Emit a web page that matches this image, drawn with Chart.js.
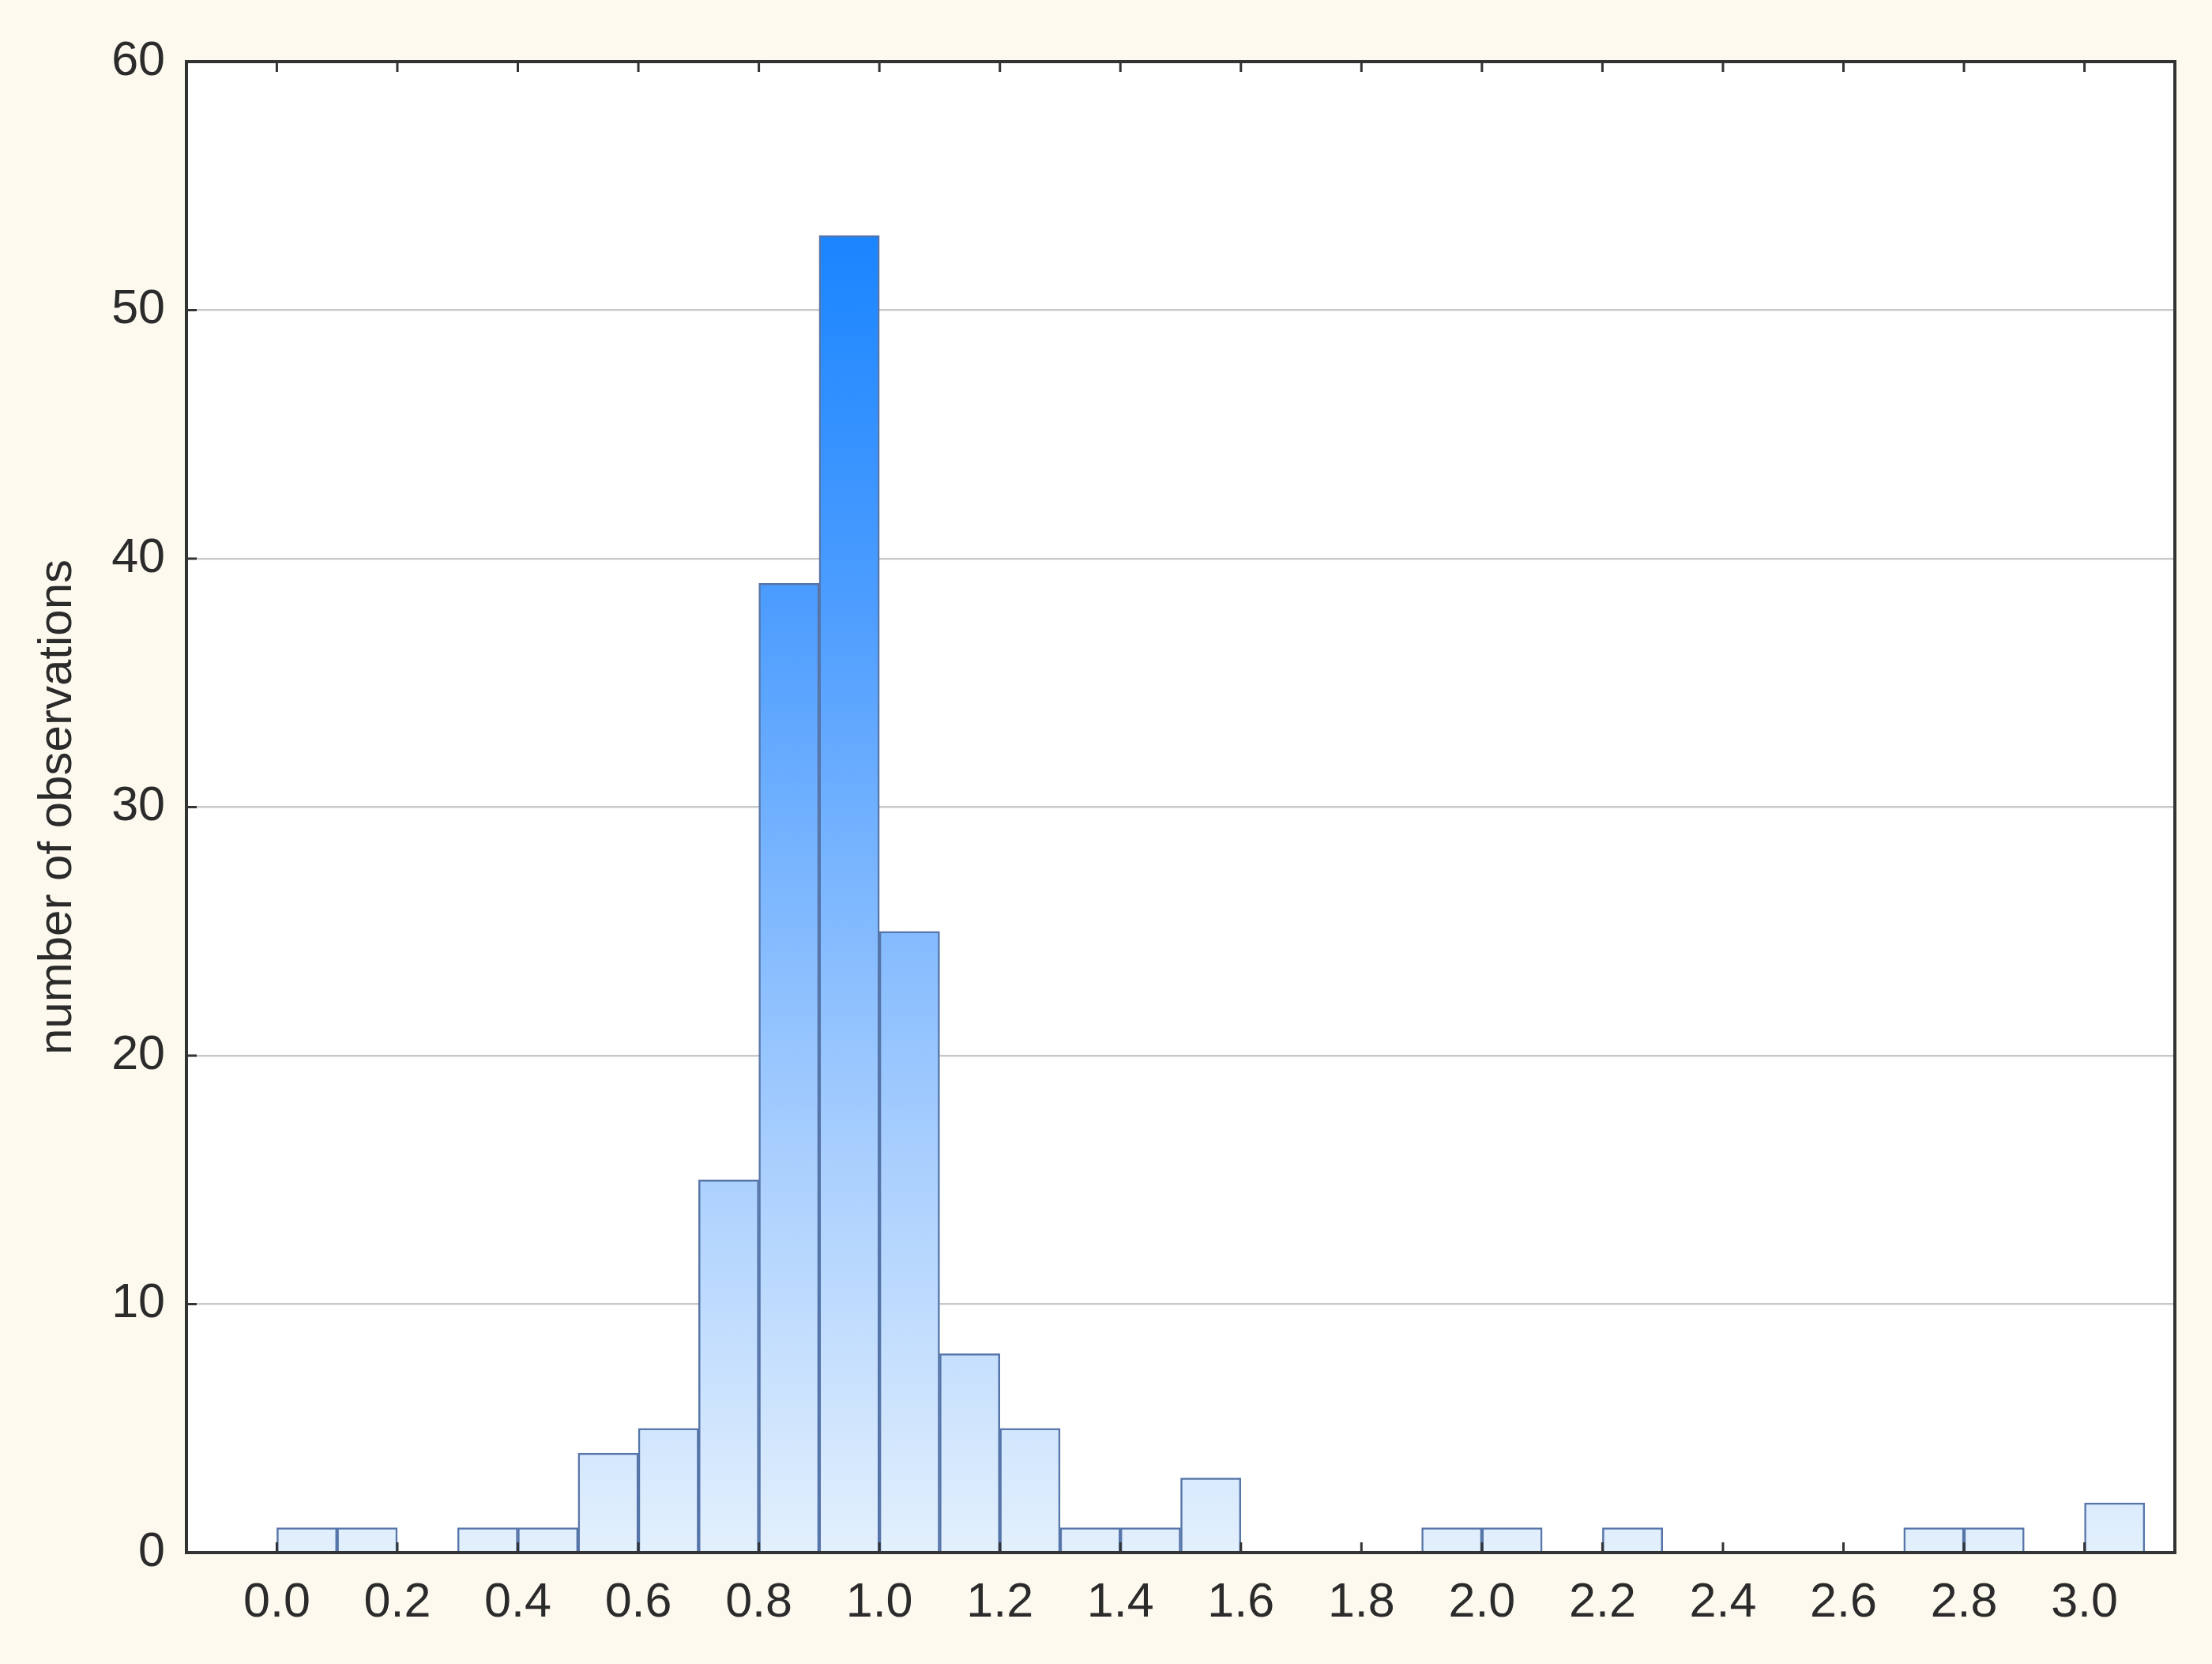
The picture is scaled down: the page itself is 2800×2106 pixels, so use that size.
<!DOCTYPE html>
<html>
<head>
<meta charset="utf-8">
<script src="https://cdn.jsdelivr.net/npm/chart.js@4/dist/chart.umd.min.js"></script>
<style>
  html, body { margin: 0; padding: 0; background: #fdf9ee; }
  #wrap { width: 2800px; height: 2106px; }
</style>
</head>
<body>
<div id="wrap"><canvas id="histChart" width="2800" height="2106"></canvas></div>
<script>
// bin centres (width 0.1) and the number of observations in each bin
const binCenters = [0.05, 0.15, 0.25, 0.35, 0.45, 0.55, 0.65, 0.75, 0.85, 0.95,
                    1.05, 1.15, 1.25, 1.35, 1.45, 1.55, 1.65, 1.75, 1.85, 1.95,
                    2.05, 2.15, 2.25, 2.35, 2.45, 2.55, 2.65, 2.75, 2.85, 2.95, 3.05];
const counts = [1, 1, 0, 1, 1, 4, 5, 15, 39, 53,
                25, 8, 5, 1, 1, 3, 0, 0, 0, 1,
                1, 0, 1, 0, 0, 0, 0, 1, 1, 0, 2];
const xTickValues = [0.0, 0.2, 0.4, 0.6, 0.8, 1.0, 1.2, 1.4, 1.6, 1.8, 2.0, 2.2, 2.4, 2.6, 2.8, 3.0];
const yTickValues = [0, 10, 20, 30, 40, 50, 60];
const yTitle = 'number of observations';

const fontFamily = '"Liberation Sans", Arial, sans-serif';
const textColor = '#2b2b2b';

// vertical gradient: light blue at 0, strong blue at the tallest bar
function barGradient(context) {
    const chart = context.chart;
    const area = chart.chartArea;
    if (!area) return '#9cc8ff';
    const yScale = chart.scales.y;
    const y0 = yScale.getPixelForValue(0);
    const yTop = yScale.getPixelForValue(Math.max(...counts));
    const g = chart.ctx.createLinearGradient(0, y0, 0, yTop);
    g.addColorStop(0, '#e3f0fd');
    g.addColorStop(0.3, '#a9cffe');
    g.addColorStop(0.72, '#4d9dff');
    g.addColorStop(1, '#1a85ff');
    return g;
}

// white plot area, then frame with inward ticks on top of the bars
const framePlugin = {
    id: 'frame',
    beforeDraw(chart) {
        const { ctx, chartArea: a } = chart;
        ctx.save();
        ctx.fillStyle = '#ffffff';
        ctx.fillRect(a.left, a.top, a.right - a.left, a.bottom - a.top);
        ctx.restore();
    },
    afterDatasetsDraw(chart) {
        const { ctx, chartArea: a, scales } = chart;
        const tickLen = 13;
        ctx.save();
        ctx.strokeStyle = '#333333';
        ctx.lineWidth = 3;
        ctx.beginPath();
        xTickValues.forEach(v => {
            const px = scales.x.getPixelForValue(v);
            ctx.moveTo(px, a.bottom);
            ctx.lineTo(px, a.bottom - tickLen);
            ctx.moveTo(px, a.top);
            ctx.lineTo(px, a.top + tickLen);
        });
        yTickValues.forEach(v => {
            const py = scales.y.getPixelForValue(v);
            ctx.moveTo(a.left, py);
            ctx.lineTo(a.left + tickLen, py);
        });
        ctx.stroke();
        ctx.lineWidth = 4;
        ctx.strokeRect(a.left, a.top, a.right - a.left, a.bottom - a.top);
        ctx.restore();
    }
};

const ctx = document.getElementById('histChart');
new Chart(ctx, {
    type: 'bar',
    data: {
        datasets: [{
            label: yTitle,
            data: binCenters.map((c, i) => ({ x: c, y: counts[i] })),
            backgroundColor: barGradient,
            borderColor: '#5675a8',
            borderWidth: 2.5,
            borderSkipped: 'start',
            barPercentage: 1,
            categoryPercentage: 1,
            grouped: false
        }]
    },
    options: {
        responsive: false,
        animation: false,
        devicePixelRatio: 1,
        layout: { padding: { top: 78, right: 47, bottom: 0, left: 0 } },
        plugins: {
            legend: { display: false },
            tooltip: { enabled: false }
        },
        scales: {
            x: {
                type: 'linear',
                offset: false,
                min: -0.15,
                max: 3.15,
                afterBuildTicks: scale => {
                    scale.ticks = xTickValues.map(v => ({ value: v }));
                },
                afterFit: scale => { scale.height = 141; },
                grid: { display: false, drawTicks: false },
                border: { display: false },
                ticks: {
                    autoSkip: false,
                    maxRotation: 0,
                    padding: 28,
                    color: textColor,
                    font: { family: fontFamily, size: 61 },
                    callback: v => v.toFixed(1)
                }
            },
            y: {
                min: 0,
                max: 60,
                afterBuildTicks: scale => {
                    scale.ticks = yTickValues.map(v => ({ value: v }));
                },
                afterFit: scale => { scale.width = 236; },
                grid: {
                    color: ctx => (ctx.tick && (ctx.tick.value === 0 || ctx.tick.value === 60)) ? 'rgba(0,0,0,0)' : '#c9c9c9',
                    lineWidth: 2.5,
                    drawTicks: false
                },
                border: { display: false },
                ticks: {
                    padding: 27,
                    color: textColor,
                    font: { family: fontFamily, size: 61 }
                },
                title: {
                    display: true,
                    text: yTitle,
                    color: textColor,
                    font: { family: fontFamily, size: 60 },
                    padding: { top: 37, bottom: 0 }
                }
            }
        }
    },
    plugins: [framePlugin]
});
</script>
</body>
</html>
